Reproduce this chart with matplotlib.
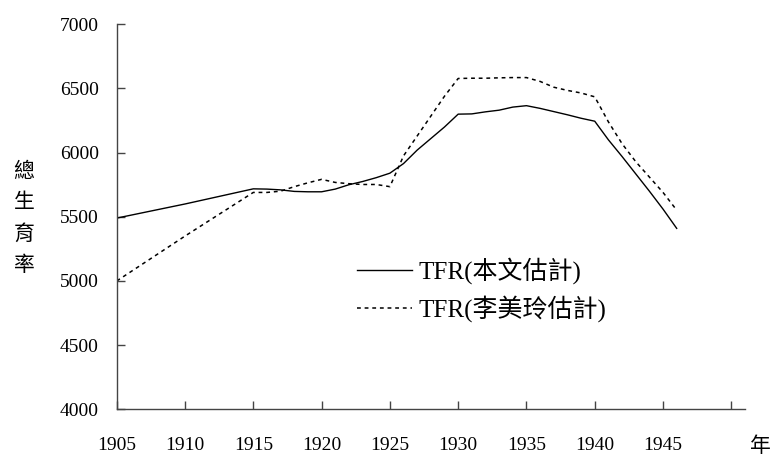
import matplotlib
matplotlib.use("Agg")
import matplotlib.pyplot as plt

years = [1905, 1910, 1915, 1916, 1917, 1918, 1919, 1920, 1921, 1922, 1923, 1924,
         1925, 1926, 1927, 1928, 1929, 1930, 1931, 1932, 1933, 1934, 1935, 1936,
         1937, 1938, 1939, 1940, 1941, 1942, 1943, 1944, 1945, 1946]
tfr_this = [5490, 5600, 5718, 5716, 5710, 5698, 5695, 5695, 5716, 5750, 5775, 5805,
            5840, 5915, 6020, 6110, 6200, 6300, 6302, 6318, 6331, 6355, 6366, 6345,
            6320, 6295, 6268, 6245, 6100, 5970, 5835, 5700, 5560, 5410]
tfr_lee = [5000, 5350, 5690, 5690, 5700, 5735, 5765, 5792, 5768, 5758, 5752, 5752,
           5735, 5975, 6130, 6285, 6440, 6578, 6580, 6580, 6583, 6585, 6585, 6555,
           6510, 6485, 6465, 6435, 6240, 6070, 5930, 5810, 5690, 5552]
label_this = "TFR(本文估計)"
label_lee = "TFR(李美玲估計)"
xticks = [1905, 1910, 1915, 1920, 1925, 1930, 1935, 1940, 1945, 1950]
xticklabels = ["1905", "1910", "1915", "1920", "1925", "1930", "1935", "1940", "1945", ""]
yticks = [4000, 4500, 5000, 5500, 6000, 6500, 7000]
ylabel = "總\n生\n育\n率"
xlabel = "年"

serif = ["Liberation Serif", "Noto Sans CJK TC"]
cjk = ["Noto Sans CJK TC", "DejaVu Sans"]

fig = plt.figure(figsize=(7.74, 4.58), dpi=100)
ax = fig.add_axes([0.1508, 0.1063, 0.8117, 0.8406])

ax.plot(years, tfr_this, color="black", lw=1.0, label=label_this)
ax.plot(years, tfr_lee, color="black", lw=1.1, linestyle=(0, (2.5, 2.5)), label=label_lee)

ax.set_xlim(1905, 1951)
ax.set_ylim(4000, 7000)
ax.set_xticks(xticks)
ax.set_xticklabels(xticklabels)
ax.set_yticks(yticks)
ax.set_yticklabels([str(v) for v in yticks])

for s in ["top", "right"]:
    ax.spines[s].set_visible(False)
for s in ["left", "bottom"]:
    ax.spines[s].set_color("#444444")
    ax.spines[s].set_linewidth(1.0)

ax.tick_params(axis="both", direction="in", length=6, width=1.0, color="#444444")
ax.tick_params(axis="x", pad=20)
ax.tick_params(axis="y", pad=13)
for lab in ax.get_xticklabels() + ax.get_yticklabels():
    lab.set_fontfamily(serif)
    lab.set_fontsize(14)
    lab.set_color("black")

leg = ax.legend(loc="center left", bbox_to_anchor=(0.3825, 0.311), frameon=False,
                borderpad=0, borderaxespad=0, handlelength=2.2, handletextpad=0.25,
                labelspacing=0.45, prop={"family": serif, "size": 18})

fig.text(24 / 774, 1 - 218 / 458, ylabel, ha="center", va="center", fontsize=15,
         family=cjk, linespacing=1.55, fontweight="medium")
fig.text(760 / 774, 1 - 446 / 458, xlabel, ha="center", va="center", fontsize=15,
         family=cjk)

fig.savefig("out.png", dpi=100)
